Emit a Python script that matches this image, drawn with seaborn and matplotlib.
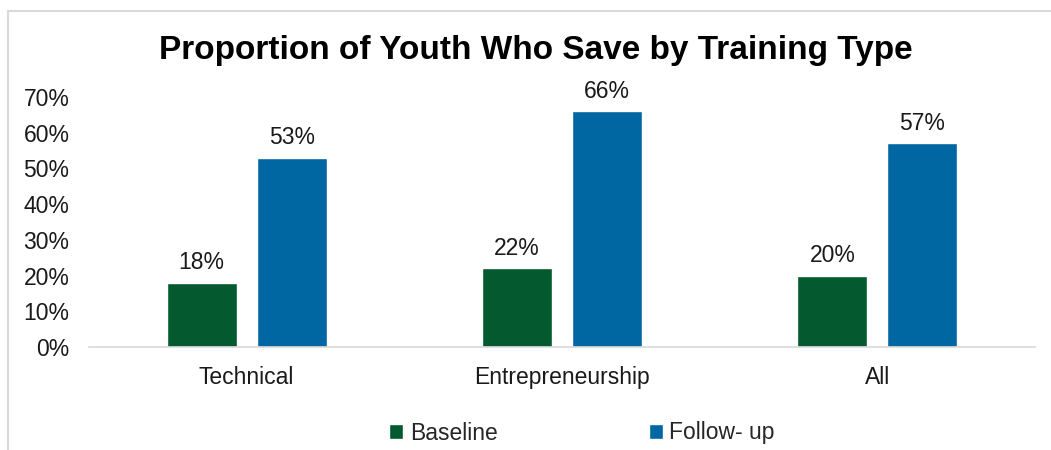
import matplotlib
matplotlib.use("Agg")
import matplotlib.pyplot as plt
from matplotlib.patches import Rectangle, Patch
import seaborn as sns
import pandas as pd

# Share of youth who save, by training type (percent)
categories = ["Technical", "Entrepreneurship", "All"]
periods = ["Baseline", "Follow- up"]
baseline = [18, 22, 20]
follow_up = [53, 66, 57]
y_ticks = [0, 10, 20, 30, 40, 50, 60, 70]
title = "Proportion of Youth Who Save by Training Type"

colors = {"Baseline": "#045A2E", "Follow- up": "#0067A2"}
text_color = "#1a1a1a"
fs = 16.5

df = pd.DataFrame({
    "Training": categories * 2,
    "Period": [periods[0]] * len(categories) + [periods[1]] * len(categories),
    "Share": baseline + follow_up,
})

sns.set_theme(style="white")
plt.rcParams["font.family"] = ["Liberation Sans", "DejaVu Sans"]

fig = plt.figure(figsize=(10.51, 4.5), dpi=100)
ax = fig.add_axes([89 / 1051, 1 - 347 / 450, (1035 - 89) / 1051, 250 / 450])

sns.barplot(data=df, x="Training", y="Share", hue="Period", order=categories,
            hue_order=periods, palette=colors, width=0.57, gap=0.22,
            saturation=1, ax=ax, legend=False, errorbar=None)

for container, vals in zip(ax.containers, [baseline, follow_up]):
    ax.bar_label(container, labels=[f"{v}%" for v in vals], padding=6,
                 fontsize=fs, color=text_color)

ax.set_ylim(0, 70)
ax.set_yticks(y_ticks)
ax.set_yticklabels([f"{t}%" for t in y_ticks], fontsize=16.5, color=text_color)
ax.set_xlim(-0.5, 2.5)
ax.tick_params(axis="x", labelsize=fs, labelcolor=text_color, length=0, pad=14)
ax.tick_params(axis="y", length=0, pad=14)
ax.set_xlabel("")
ax.set_ylabel("")
for side in ["left", "right", "top"]:
    ax.spines[side].set_visible(False)
ax.spines["bottom"].set_color("#d9d9d9")
ax.spines["bottom"].set_linewidth(1.2)

fig.text(536 / 1051, 1 - 51 / 450, title, ha="center", va="center",
         fontsize=24, fontweight="bold", color="black")

handles = [Patch(facecolor=colors[p], label=p) for p in periods]
fig.legend(handles=handles, loc="center", bbox_to_anchor=(582 / 1051, 1 - 433 / 450),
           ncol=2, frameon=False, fontsize=fs, handlelength=0.6,
           handleheight=0.6, handletextpad=0.3, columnspacing=6.6)

fig.patches.append(Rectangle((8 / 1051, -0.1), 1.2, 1 - 11 / 450 + 0.1,
                             transform=fig.transFigure, fill=False,
                             edgecolor="#d9d9d9", linewidth=1.5))

fig.savefig("out.png", dpi=100)
